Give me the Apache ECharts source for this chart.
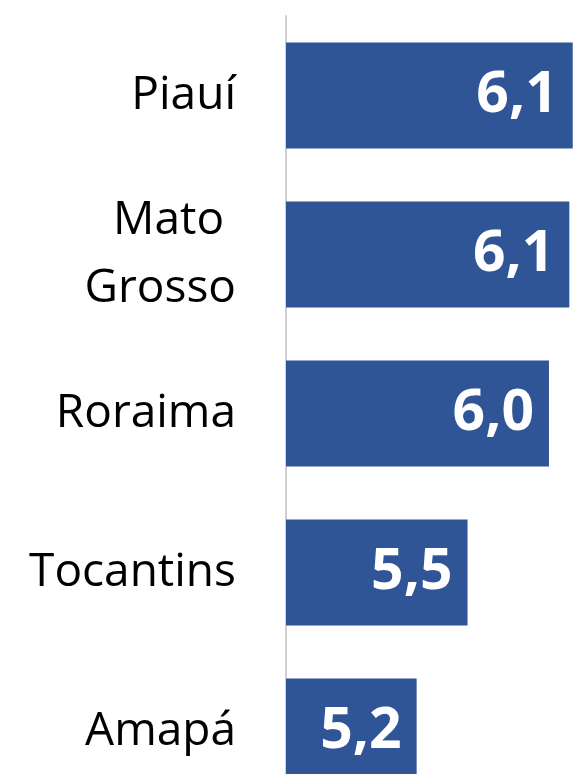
<!DOCTYPE html>
<html>
<head>
<meta charset="utf-8">
<script src="https://cdn.jsdelivr.net/npm/echarts@6/dist/echarts.min.js"></script>
<style>
  html, body { margin: 0; padding: 0; background: #fff; }
  #chart { width: 588px; height: 774px; }
</style>
</head>
<body>
<div id="chart"></div>
<script>
// estados e valores
var estados = ['Piauí', 'Mato \nGrosso', 'Roraima', 'Tocantins', 'Amapá'];
var valores = [6.13, 6.11, 5.99, 5.51, 5.21];

var chart = echarts.init(document.getElementById('chart'));
chart.setOption({
    animation: false,
    grid: {
        left: 286,
        right: 0,
        top: 16,
        height: 795,
        outerBoundsMode: 'none',
        containLabel: false
    },
    xAxis: {
        type: 'value',
        min: 4.44,
        max: 6.22,
        show: false,
        splitLine: { show: false }
    },
    yAxis: {
        type: 'category',
        inverse: true,
        data: estados,
        axisLine: {
            show: true,
            lineStyle: { color: '#d0d0d0', width: 2 }
        },
        axisTick: { show: false },
        axisLabel: {
            margin: 50,
            color: '#000',
            fontFamily: 'Open Sans',
            fontSize: 46,
            lineHeight: 68,
            align: 'right'
        }
    },
    series: [{
        type: 'bar',
        data: valores,
        barCategoryGap: '33.3%',
        itemStyle: { color: '#2F5597' },
        label: {
            show: true,
            position: 'insideRight',
            distance: 15,
            color: '#fff',
            fontFamily: 'Open Sans',
            fontWeight: 'bold',
            fontSize: 57,
            formatter: function (p) {
                return p.value.toFixed(1).replace('.', ',');
            }
        }
    }]
});
</script>
</body>
</html>
